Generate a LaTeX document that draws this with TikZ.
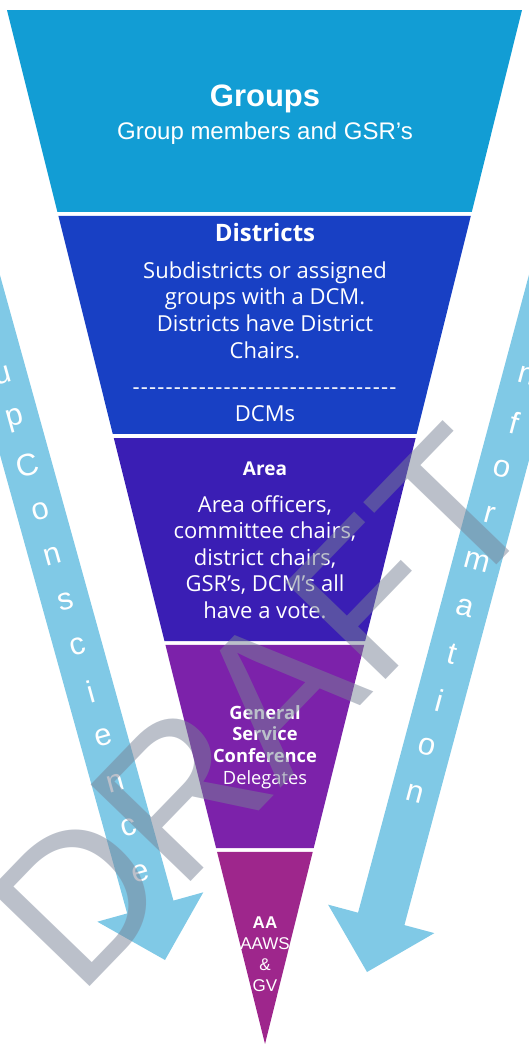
\documentclass[tikz,border=0pt]{standalone}
\usepackage{fontspec}
\usetikzlibrary{calc}
\newfontfamily\arialfont{Liberation Sans}
\newfontfamily\aptosfont{Open Sans}
\definecolor{groupsblue}{RGB}{18,157,212}
\definecolor{districtblue}{RGB}{24,64,196}
\definecolor{areaviolet}{RGB}{58,30,180}
\definecolor{gscpurple}{RGB}{124,34,170}
\definecolor{aamagenta}{RGB}{158,38,140}
\definecolor{arrowblue}{RGB}{128,201,230}
\definecolor{draftgray}{RGB}{120,130,150}
\newcommand\dsh{-\kern1.2pt}
\tikzset{
  bandtext/.style={text=white, align=center, inner sep=0pt,
    font=\aptosfont\fontsize{22}{26.6}\selectfont},
  bandtitle/.style={text=white, align=center, inner sep=0pt,
    font=\aptosfont\bfseries\fontsize{#1}{#1}\selectfont},
  arrowbody/.style={fill=arrowblue},
  arrowletter/.style={text=white, inner sep=0pt,
    font=\arialfont\fontsize{31}{31}\selectfont},
  draftmark/.style={text=draftgray, text opacity=0.5, inner sep=0pt,
    font=\arialfont\fontsize{202}{202}\selectfont}
}
\begin{document}
\begin{tikzpicture}[x=1pt,y=-1pt]
\useasboundingbox (0,0) rectangle (529,1044);
\clip (0,0) rectangle (529,1044);
\coordinate (TL) at (7,10);
\coordinate (TR) at (522,10);
\coordinate (apex) at (265,1044);

% the five bands of the funnel
\foreach \ytop/\ybot/\col in {10/212/groupsblue, 216/434/districtblue,
    438/641/areaviolet, 645/848/gscpurple, 852/1044/aamagenta}
  \fill[\col] ($(TL)!{(\ytop-10)/1034}!(apex)$) -- ($(TR)!{(\ytop-10)/1034}!(apex)$)
    -- ($(TR)!{(\ybot-10)/1034}!(apex)$) -- ($(TL)!{(\ybot-10)/1034}!(apex)$) -- cycle;

\node (groups) at (265,99) [text=white, inner sep=0pt, font=\arialfont\bfseries\fontsize{31}{31}\selectfont] {Groups};
\node (groupsnote) at (265,133) [text=white, inner sep=0pt, font=\arialfont\fontsize{24}{24}\selectfont] {Group members and GSR’s};

\node (districts) at (265,232) [bandtitle=24] {Districts};
\node (districtsnote) at (265,310) [bandtext] {Subdistricts or assigned\\groups with a DCM.\\Districts have District\\Chairs.};
\node (dashrow) at (265,391) [bandtext] {\foreach \k in {1,...,32}{\dsh}};
\node (dcms) at (265,414) [bandtext] {DCMs};

\node (area) at (265,469) [bandtitle=19] {Area};
\node (areanote) at (265,557) [bandtext] {Area officers,\\committee chairs,\\district chairs,\\GSR’s, DCM’s all\\have a vote.};

\node (gsc) at (265,747) [text=white, align=center, inner sep=0pt, font=\aptosfont\fontsize{18.3}{21.7}\selectfont] {\textbf{General}\\\textbf{Service}\\\textbf{Conference}\\Delegates};

\node (aa) at (265,954) [text=white, align=center, inner sep=0pt, font=\arialfont\fontsize{17}{21}\selectfont] {\textbf{AA}\\AAWS\\\&\\GV};

% left arrow: group conscience
\begin{scope}[shift={(165,960)},rotate=15.5]
\fill[arrowbody] (0,0) -- (-55,-55) -- (-24,-55) -- (-24,-1100) -- (24,-1100) -- (24,-55) -- (55,-55) -- cycle;
\foreach \ch [count=\i] in {G,r,o,u,p,C,o,n,s,c,i,e,n,c,e}
  \node[arrowletter, rotate=15.5] (gc\i) at (0,{-90-47*(15-\i)}) {\ch};
\end{scope}

% right arrow: information
\begin{scope}[shift={(367,972)},rotate=-15]
\fill[arrowbody] (0,0) -- (-55,-55) -- (-24,-55) -- (-24,-1100) -- (24,-1100) -- (24,-55) -- (55,-55) -- cycle;
\foreach \ch [count=\i] in {I,n,f,o,r,m,a,t,i,o,n}
  \node[arrowletter, rotate=-15] (inf\i) at (0,{-185-48*(11-\i)}) {\ch};
\end{scope}

\node[draftmark, rotate=46] (draft) at (262,708) {DRAFT};
\end{tikzpicture}
\end{document}
